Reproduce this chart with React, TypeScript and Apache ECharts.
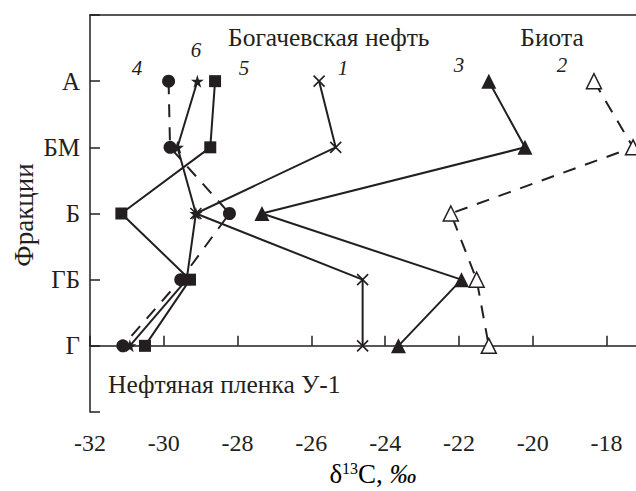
import React, { useEffect, useRef } from "react";
import * as echarts from "echarts";

const fractions = ["А", "БМ", "Б", "ГБ", "Г"];
const fractionLevels = [4, 3, 2, 1, 0];
const xTicks = [-32, -30, -28, -26, -24, -22, -20, -18];

const s1Cross = [-25.79, -25.34, -29.13, -24.61, -24.61];
const s2HollowTri = [-18.34, -17.28, -22.22, -21.52, -21.19];
const s3FilledTri = [-21.19, -20.21, -27.34, -21.93, -23.64];
const s4Circle = [-29.87, -29.83, -28.22, -29.54, -31.11];
const s5Square = [-28.61, -28.74, -31.15, -29.29, -30.51];
const s6Star = [-29.09, -29.63, -29.13, -29.38, -30.92];

const INK = "#231f20";
const FONT = "Liberation Serif";
const STAR = "path://M50,0 L61,35 L98,35 L68,57 L79,91 L50,70 L21,91 L32,57 L2,35 L39,35Z";
const CROSS = "path://M0,0L10,10M10,0L0,10";

const pts = (xs: number[]) => xs.map((x, i) => [x, fractionLevels[i]]);

export default function App() {
  const ref = useRef<HTMLDivElement>(null);
  useEffect(() => {
    if (!ref.current) return;
    const chart = echarts.init(ref.current, null, { renderer: "svg" });
    const line = (data: number[][], symbol: string, size: number, dashed: boolean, hollow = false, stroke = false) => ({
      type: "line",
      data,
      symbol,
      symbolSize: size,
      showAllSymbol: true,
      lineStyle: { color: INK, width: 2, type: dashed ? [13, 10] : "solid" },
      itemStyle: stroke
        ? { color: "rgba(0,0,0,0)", borderColor: INK, borderWidth: 1.6 }
        : hollow
        ? { color: "#fff", borderColor: INK, borderWidth: 1.5 }
        : { color: INK, borderWidth: 0 },
      emphasis: { disabled: true },
      z: 3,
    });
    const txt = (text: string, x: number, y: number, size: number, align = "center", italic = false) => {
      const style: any = { text, fontFamily: FONT, fontSize: size, fill: INK, align, verticalAlign: "middle" };
      if (italic) style.fontStyle = "italic";
      return { type: "text", x, y, style };
    };
    chart.setOption({
      animation: false,
      textStyle: { fontFamily: FONT },
      grid: { left: 90, right: 0, top: 15, bottom: 79, containLabel: false },
      xAxis: [
        {
          type: "value",
          min: -32,
          max: -17.2,
          interval: 2,
          axisLine: { show: true, lineStyle: { color: INK, width: 1.5 } },
          axisTick: { show: true, inside: true, length: 10, lineStyle: { color: INK, width: 1.5 } },
          splitLine: { show: false },
          axisLabel: {
            color: INK,
            fontFamily: FONT,
            fontSize: 24,
            margin: 19,
            showMaxLabel: false,
            formatter: (v: number) => (xTicks.includes(Math.round(v * 100) / 100) ? String(v) : ""),
          },
        },
        {
          type: "value",
          position: "top",
          min: -32,
          max: -17.2,
          axisLine: { show: true, onZero: false, lineStyle: { color: INK, width: 1.5 } },
          axisTick: { show: false },
          axisLabel: { show: false },
          splitLine: { show: false },
        },
      ],
      yAxis: {
        type: "value",
        min: -1,
        max: 5,
        interval: 1,
        axisLine: { show: true, lineStyle: { color: INK, width: 1.5 } },
        axisTick: { show: true, inside: true, length: 10, lineStyle: { color: INK, width: 1.5 } },
        splitLine: { show: false },
        axisLabel: {
          color: INK,
          fontFamily: FONT,
          fontSize: 25,
          margin: 10,
          formatter: (v: number) => {
            const i = fractionLevels.indexOf(v);
            return i >= 0 ? fractions[i] : "";
          },
        },
      },
      series: [
        line(pts(s2HollowTri), "triangle", 15, true, true),
        line(pts(s4Circle), "circle", 13, true),
        line(pts(s1Cross), CROSS, 11, false, false, true),
        line(pts(s3FilledTri), "triangle", 15, false),
        line(pts(s5Square), "rect", 12, false),
        line(pts(s6Star), STAR, 13, false),
      ],
      graphic: [
        { ...txt("Фракции", 24, 215, 27), rotation: Math.PI / 2 },
        txt("Богачевская нефть", 228, 37, 25.5, "left"),
        txt("Биота", 552, 37, 25.5),
        txt("Нефтяная пленка У-1", 108, 384, 25.5, "left"),
        txt("4", 137, 68, 21, "center", true),
        txt("6", 196, 50, 21, "center", true),
        txt("5", 244, 68, 21, "center", true),
        txt("1", 343, 68, 21, "center", true),
        txt("3", 459, 65, 21, "center", true),
        txt("2", 562, 65, 21, "center", true),
        {
          type: "text",
          x: 373,
          y: 474,
          style: {
            text: "{a|δ}{s|13}{a|C, }{i|‰}",
            align: "center",
            verticalAlign: "middle",
            rich: {
              a: { fontFamily: FONT, fontSize: 27, color: INK },
              s: { fontFamily: FONT, fontSize: 16, color: INK, verticalAlign: "top", padding: [0, 0, 9, 0] },
              i: { fontFamily: FONT, fontSize: 27, fontStyle: "italic", color: INK },
            },
          },
        },
      ],
    });
    return () => chart.dispose();
  }, []);
  return <div ref={ref} style={{ position: "fixed", left: 0, top: 0, width: 636, height: 491, background: "#fff" }} />;
}
